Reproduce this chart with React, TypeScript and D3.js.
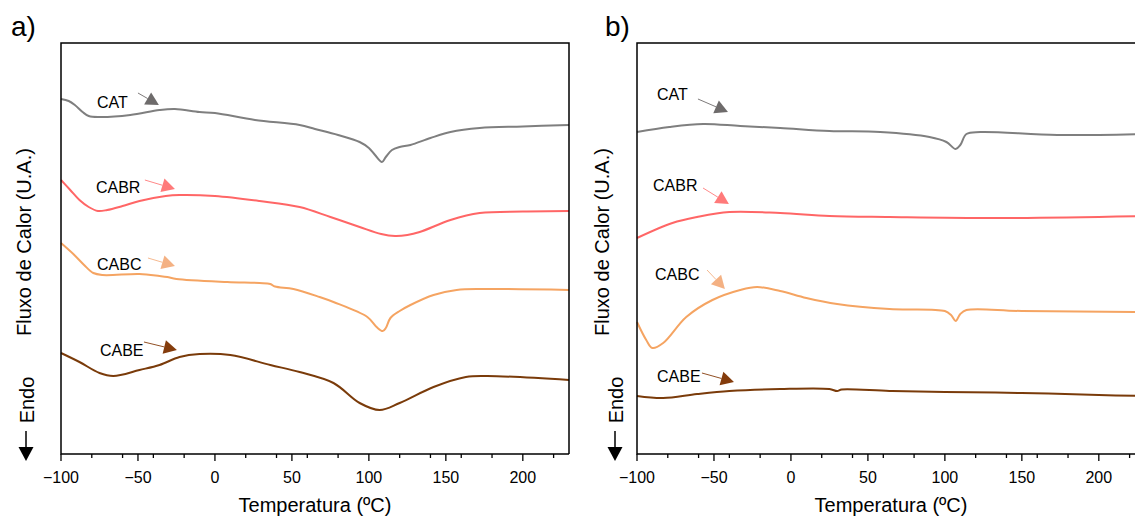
import React from "react";
import * as d3 from "d3";

// DSC curves: [temperature ºC, heat flow a.u.]
const catA = [[-100, 35.5], [-95, 35.3], [-91, 34.9], [-86, 34.2], [-82, 33.8], [-75, 33.7], [-55, 33.9], [-36, 34.4], [-26, 34.5], [-10, 34.2], [0, 34.1], [26, 33.4], [55, 32.9], [65, 32.5], [80, 31.9], [94, 31.2], [100, 30.6], [104, 29.9], [108.5, 29.2], [111, 29.7], [115, 30.4], [120, 30.7], [127, 30.9], [140, 31.6], [153, 32.2], [172, 32.6], [200, 32.75], [230, 32.9]];
const cabrA = [[-100, 27.4], [-94, 26.4], [-88, 25.4], [-82, 24.7], [-76, 24.3], [-70, 24.4], [-60, 24.8], [-49, 25.3], [-32, 25.8], [-23, 25.9], [0, 25.8], [29, 25.3], [55, 24.7], [75, 23.7], [94, 22.7], [108, 22.0], [117, 21.8], [125, 21.9], [133, 22.2], [153, 23.4], [172, 24.1], [200, 24.25], [230, 24.3]];
const cabcA = [[-100, 21.1], [-92, 20.0], [-85, 18.9], [-79, 18.1], [-73, 17.9], [-49, 18.0], [-36, 17.8], [-31, 17.7], [-25, 17.5], [8, 17.2], [29, 17.1], [36, 17.0], [39, 16.75], [51, 16.5], [68, 15.7], [77, 15.2], [99, 13.7], [105, 12.7], [109, 12.3], [111, 12.6], [114, 13.6], [120, 14.3], [127, 14.9], [142, 15.9], [157, 16.4], [174, 16.5], [230, 16.4]];
const cabeA = [[-100, 10.1], [-88, 9.2], [-75, 8.1], [-66, 7.8], [-49, 8.4], [-36, 8.9], [-23, 9.7], [-10, 10.0], [10, 9.9], [36, 8.9], [55, 8.2], [77, 7.1], [94, 5.1], [107, 4.4], [120, 5.1], [142, 6.7], [163, 7.7], [177, 7.8], [230, 7.4]];

const catB = [[-100, 32.2], [-79, 32.7], [-57, 33.0], [-33, 32.8], [-7, 32.6], [25, 32.3], [58, 32.2], [90, 31.7], [101, 31.2], [107, 30.5], [110, 30.9], [114, 32.0], [123, 32.2], [173, 31.9], [230, 32.0]];
const cabrB = [[-100, 21.6], [-77, 23.1], [-61, 23.7], [-40, 24.2], [-7, 24.1], [25, 23.8], [64, 23.7], [136, 23.6], [230, 23.8]];
const cabcB = [[-100, 13.2], [-94, 11.4], [-90, 10.6], [-83, 11.1], [-68, 13.7], [-51, 15.4], [-33, 16.4], [-22, 16.7], [-7, 16.3], [10, 15.6], [30, 15.0], [64, 14.5], [100, 14.3], [104, 13.9], [107, 13.3], [110, 14.0], [114, 14.4], [150, 14.3], [230, 14.2]];
const cabeB = [[-100, 5.8], [-83, 5.6], [-61, 6.0], [-40, 6.3], [-7, 6.5], [25, 6.5], [30, 6.3], [33, 6.45], [64, 6.3], [100, 6.2], [150, 6.1], [200, 5.9], [230, 5.8]];

const seriesNames = ["CAT", "CABR", "CABC", "CABE"];
const lineColors = ["#7f7f7f", "#ff6666", "#f5a462", "#7a3b0a"];
const arrowColors = ["#6e6b6b", "#ff7a7a", "#f4b183", "#843c0c"];

// label anchor, arrow start, arrow tip (data units)
const labelsA = [
  [[-76.6, 34.6], [-50, 36.1], [-36.4, 34.9]],
  [[-77.3, 26.1], [-45.5, 27.4], [-26, 26.5]],
  [[-76.6, 18.4], [-43.5, 19.6], [-26, 18.8]],
  [[-74.7, 9.8], [-46.1, 11.2], [-24.7, 10.4]],
];
const labelsB = [
  [[-87, 35.4], [-60.4, 35.5], [-40.9, 34.2]],
  [[-89.6, 26.3], [-57.1, 26.6], [-40.3, 25.0]],
  [[-88.3, 17.4], [-54.5, 18.4], [-42.9, 16.5]],
  [[-87, 7.2], [-57.8, 8.1], [-37, 7.2]],
];

const xDomain = [-100, 230];
const yDomain = [0, 41.1];
const W = 1135;
const H = 520;
const FONT = "'Liberation Sans', Arial, sans-serif";

function Arrow({ x1, y1, x2, y2, color }) {
  const dx = x2 - x1;
  const dy = y2 - y1;
  const len = Math.hypot(dx, dy);
  const ux = dx / len;
  const uy = dy / len;
  const hl = 13;
  const hw = 7;
  const bx = x2 - ux * hl;
  const by = y2 - uy * hl;
  const pts = `${x2},${y2} ${bx - uy * hw},${by + ux * hw} ${bx + uy * hw},${by - ux * hw}`;
  return (
    <g>
      <line x1={x1} y1={y1} x2={bx} y2={by} stroke={color} strokeWidth={0.9} />
      <polygon points={pts} fill={color} />
    </g>
  );
}

function Panel({ left, tag, tagX, titleX, endoX, arrowX, series, labels }) {
  const top = 43;
  const width = 508;
  const height = 411;
  const x = d3.scaleLinear().domain(xDomain).range([left, left + width]);
  const y = d3.scaleLinear().domain(yDomain).range([top + height, top]);
  const line = d3
    .line()
    .x((d) => x(d[0]))
    .y((d) => y(d[1]))
    .curve(d3.curveCatmullRom.alpha(0.5));
  const majors = x.ticks(7);
  const minors = x.ticks(14).filter((t) => !majors.includes(t));
  const bottom = top + height;
  const cy = 242;

  return (
    <g fontFamily={FONT}>
      <text x={tagX} y={36} fontSize={28}>{tag}</text>
      {series.map((s, i) => (
        <path key={i} d={line(s)} fill="none" stroke={lineColors[i]} strokeWidth={2} />
      ))}
      {labels.map((l, i) => (
        <g key={i}>
          <text x={x(l[0][0])} y={y(l[0][1])} fontSize={16}>{seriesNames[i]}</text>
          <Arrow x1={x(l[1][0])} y1={y(l[1][1])} x2={x(l[2][0])} y2={y(l[2][1])} color={arrowColors[i]} />
        </g>
      ))}
      <path
        d={`M${left + width},${bottom} V${top} H${left} V${bottom} H${left + width}`}
        fill="none"
        stroke="#000"
        strokeWidth={1.5}
      />
      {majors.map((t) => (
        <g key={t}>
          <line x1={x(t)} x2={x(t)} y1={bottom} y2={bottom + 7} stroke="#000" strokeWidth={1.3} />
          <text x={x(t)} y={bottom + 29} fontSize={16} textAnchor="middle">{d3.format("")(t)}</text>
        </g>
      ))}
      {minors.map((t) => (
        <line key={t} x1={x(t)} x2={x(t)} y1={bottom} y2={bottom + 4} stroke="#000" strokeWidth={1.3} />
      ))}
      <text x={left + width / 2} y={512} fontSize={20} textAnchor="middle">Temperatura (ºC)</text>
      <text transform={`translate(${titleX},${cy}) rotate(-90)`} fontSize={20} textAnchor="middle">
        Fluxo de Calor (U.A.)
      </text>
      <text transform={`translate(${endoX},400) rotate(-90)`} fontSize={20} textAnchor="middle">Endo</text>
      <line x1={arrowX} x2={arrowX} y1={431} y2={449} stroke="#000" strokeWidth={1.5} />
      <polygon points={`${arrowX - 7.5},447 ${arrowX + 7.5},447 ${arrowX},461`} fill="#000" />
    </g>
  );
}

export default function App() {
  return (
    <div style={{ position: "absolute", left: 0, top: 0 }}>
      <svg width={W} height={H} style={{ display: "block", background: "#fff" }}>
        <Panel
          left={61}
          tag="a)"
          tagX={11}
          titleX={31}
          endoX={34}
          arrowX={26}
          series={[catA, cabrA, cabcA, cabeA]}
          labels={labelsA}
        />
        <Panel
          left={637}
          tag="b)"
          tagX={605}
          titleX={609}
          endoX={623}
          arrowX={615}
          series={[catB, cabrB, cabcB, cabeB]}
          labels={labelsB}
        />
      </svg>
    </div>
  );
}
